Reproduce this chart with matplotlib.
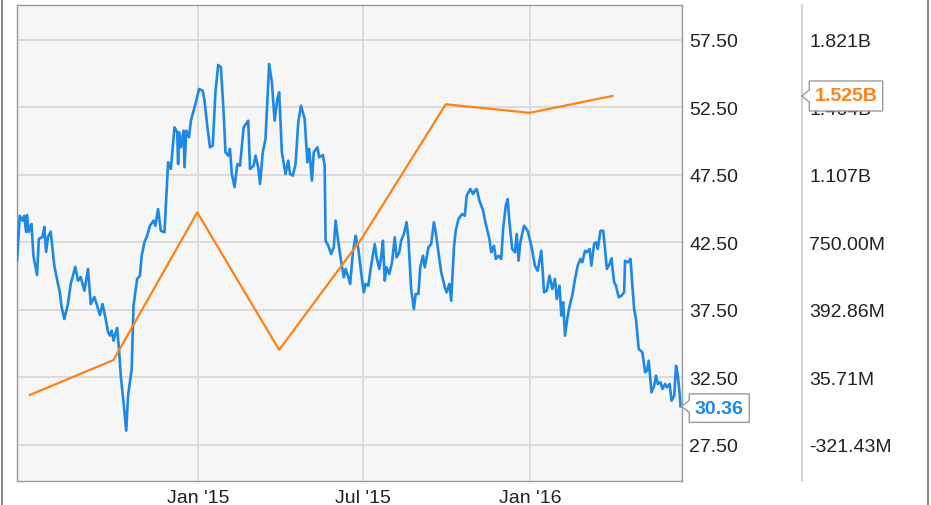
import matplotlib
matplotlib.use('Agg')
import matplotlib.pyplot as plt
from matplotlib.patches import Polygon
from matplotlib.lines import Line2D
import pandas as pd

# share price, days counted from start_date
start_date = '2014-06-16'
price_days = [0, 3, 6, 8, 10, 11, 13, 16, 18, 22, 24, 28, 30, 32, 34, 37, 41, 45, 47, 49,
              52, 56, 59, 64, 67, 70, 74, 78, 81, 85, 88, 91, 94, 97, 100, 102, 104, 106, 108, 110,
              112, 114, 117, 120, 122, 126, 128, 132, 135, 137, 140, 143, 146, 150, 152, 155, 158, 162, 166, 169,
              173, 176, 177, 178, 180, 183, 184, 186, 189, 191, 196, 200, 204, 206, 209, 212, 215, 218, 221, 224,
              227, 229, 232, 234, 236, 239, 242, 245, 249, 254, 256, 260, 262, 265, 267, 270, 273, 276, 277, 280,
              283, 286, 288, 291, 295, 298, 300, 303, 306, 309, 312, 316, 319, 321, 324, 326, 330, 332, 336, 338,
              339, 342, 345, 348, 350, 353, 356, 359, 361, 364, 366, 369, 372, 375, 378, 381, 383, 386, 389, 393,
              395, 398, 400, 402, 404, 406, 409, 412, 415, 417, 420, 422, 425, 428, 430, 433, 436, 438, 441, 443,
              446, 448, 452, 455, 458, 460, 463, 466, 470, 472, 475, 477, 480, 482, 485, 489, 492, 494, 498, 501,
              503, 505, 508, 512, 515, 519, 521, 524, 526, 529, 532, 534, 537, 539, 541, 544, 547, 549, 551, 553,
              557, 561, 565, 569, 572, 576, 579, 582, 585, 588, 591, 593, 596, 598, 600, 602, 605, 608, 610, 613,
              616, 619, 621, 624, 626, 629, 631, 634, 636, 638, 641, 644, 646, 648, 651, 653, 656, 658, 661, 664,
              667, 668, 671, 674, 676, 678, 680, 683, 687, 690, 692, 694, 697, 700, 702, 704, 707, 709, 712, 714,
              717, 719, 722, 724, 726, 728, 729]
price_values = [41.15, 44.48, 44.12, 44.48, 43.28, 44.54, 43.28, 43.87, 41.52, 40.09, 42.76, 42.91, 43.65, 41.80, 42.91, 43.30, 40.78, 39.43, 38.83, 37.72,
                36.83, 37.94, 39.43, 40.69, 39.67, 39.94, 38.93, 40.54, 37.94, 38.46, 37.82, 37.13, 37.94, 36.98, 35.87, 35.60, 35.97, 35.23, 35.72, 36.17,
                34.61, 32.63, 30.69, 28.56, 31.15, 33.13, 37.82, 39.80, 40.04, 41.52, 42.52, 43.00, 43.74, 44.12, 43.74, 44.98, 43.37, 43.26, 48.44, 47.94,
                51.03, 50.66, 48.31, 50.66, 49.55, 50.78, 48.07, 50.78, 50.29, 51.52, 52.76, 53.87, 53.74, 53.00, 51.15, 49.55, 49.67, 53.63, 55.65, 55.48,
                52.14, 49.18, 48.93, 49.43, 47.57, 46.59, 48.31, 48.19, 51.03, 51.52, 47.94, 48.19, 48.93, 48.07, 46.83, 49.18, 50.17, 54.37, 55.72, 54.37,
                51.52, 53.13, 53.63, 49.18, 47.57, 48.56, 47.57, 47.45, 48.31, 51.40, 52.63, 51.65, 48.44, 49.43, 47.08, 49.18, 49.55, 48.81, 48.98, 48.19,
                42.63, 42.26, 41.65, 42.14, 44.12, 42.52, 41.15, 39.92, 40.54, 39.92, 39.43, 41.77, 43.00, 42.02, 40.29, 38.81, 39.43, 39.30, 40.78, 42.39,
                41.40, 40.54, 41.40, 42.63, 39.67, 40.66, 40.17, 41.03, 42.89, 41.40, 41.77, 42.63, 43.13, 44.00, 42.76, 39.06, 37.57, 38.69, 38.69, 40.66,
                41.52, 40.66, 42.14, 42.39, 44.00, 43.26, 41.77, 40.29, 39.18, 38.81, 39.43, 38.19, 42.14, 43.37, 44.24, 44.61, 44.48, 45.97, 46.46, 46.09,
                46.34, 46.46, 45.60, 44.86, 43.87, 42.76, 41.77, 42.26, 41.28, 41.52, 41.28, 43.50, 45.23, 45.72, 44.00, 42.02, 41.77, 43.13, 41.15, 42.52,
                43.74, 43.37, 42.26, 40.78, 40.41, 41.89, 38.81, 38.93, 40.04, 39.06, 39.80, 38.31, 39.30, 37.08, 38.07, 35.60, 37.08, 38.07, 38.56, 39.80,
                40.78, 41.28, 41.03, 41.89, 41.77, 42.02, 40.78, 42.39, 42.52, 42.02, 43.37, 43.37, 42.02, 40.54, 40.91, 41.33, 39.55, 39.30, 38.44, 38.56,
                38.81, 41.15, 41.03, 41.28, 39.30, 37.57, 36.83, 34.61, 34.37, 32.89, 33.00, 33.74, 31.40, 31.89, 32.63, 32.02, 32.14, 31.65, 32.02, 31.77,
                32.02, 30.78, 31.15, 33.37, 32.63, 31.28, 30.36]

# quarterly revenue, millions
rev_dates = ['2014-06-30', '2014-09-30', '2014-12-31', '2015-03-31',
             '2015-06-30', '2015-09-30', '2015-12-31', '2016-03-31']
rev_values = [-57, 128, 909, 182, 773, 1481, 1436, 1525]

price_ticks = [27.5, 32.5, 37.5, 42.5, 47.5, 52.5, 57.5]
rev_ticks = [-321.43, 35.71, 392.86, 750.0, 1107.14, 1464.29, 1821.43]
x_ticks = ['2015-01-01', '2015-07-01', '2016-01-01']
x_labels = ["Jan '15", "Jul '15", "Jan '16"]

BLUE = '#1e88e5'
ORANGE = '#ff8214'
W, H = 931, 506
L, R, T, B = 17, 681.5, 6, 481.5

plt.rcParams['font.family'] = ['Liberation Sans', 'DejaVu Sans']


def fx(x):
    return x / W


def fy(y):
    return 1 - y / H


def rev_fmt(v):
    if abs(v) >= 1000:
        return '%.3fB' % (v / 1000)
    return '%.2fM' % v


def callout(x_tip, y_tip, x0, x1, y0, y1, text, color):
    pts = [(x_tip, y_tip), (x0, y_tip - 6), (x0, y0), (x1, y0), (x1, y1), (x0, y1), (x0, y_tip + 6)]
    poly = Polygon([(fx(a), fy(b)) for a, b in pts], closed=True, transform=fig.transFigure,
                   facecolor='white', edgecolor='#9a9a9a', lw=1, zorder=5)
    fig.add_artist(poly)
    fig.text(fx((x0 + x1) / 2), fy((y0 + y1) / 2), text, color=color, fontsize=14,
             fontweight='bold', ha='center', va='center', zorder=6)


start = pd.Timestamp(start_date)
price_dates = start + pd.to_timedelta(price_days, unit='D')
ylo, yhi = 24.87, 60.09


def to_rev(p):
    return 750 + (p - 42.5) * 357.142857 / 5


fig = plt.figure(figsize=(W / 100, H / 100), dpi=100)
ax = fig.add_axes([fx(L), fy(B), (R - L) / W, (B - T) / H])
ax.set_facecolor('#f6f6f6')
ax.plot(price_dates, price_values, color=BLUE, lw=1.9, zorder=3)
ax.set_xlim(start, start + pd.Timedelta(days=730))
ax.set_ylim(ylo, yhi)
ax.set_xticks(pd.to_datetime(x_ticks))
ax.set_xticklabels(x_labels)
ax.tick_params(axis='x', length=0, pad=6, labelsize=14, labelcolor='#222222')
ax.grid(color='#d9d9d9', lw=1.3)
ax.set_axisbelow(True)
for s in ax.spines.values():
    s.set_color('#9a9a9a')
    s.set_linewidth(1)

ax2 = ax.twinx()
ax2.plot(pd.to_datetime(rev_dates), rev_values, color=ORANGE, lw=1.6, zorder=4)
ax2.set_ylim(to_rev(ylo), to_rev(yhi))
ax2.set_yticks(rev_ticks)
ax2.set_yticklabels([rev_fmt(t) for t in rev_ticks])
ax2.tick_params(axis='y', length=0, pad=5.5, labelsize=14, labelcolor='#222222')
for k in ['left', 'top', 'bottom']:
    ax2.spines[k].set_visible(False)
ax2.spines['right'].set_position(('outward', 120 * 0.72))
ax2.spines['right'].set_color('#cccccc')
ax2.spines['right'].set_linewidth(1.2)

# price labels on the right of the plot (twinx moves them left, so set after)
ax.yaxis.tick_right()
ax.set_yticks(price_ticks)
ax.set_yticklabels(['%.2f' % t for t in price_ticks])
ax.tick_params(axis='y', length=0, pad=5.5, labelsize=14, labelcolor='#222222')

# value callouts
y_last = T + (yhi - price_values[-1]) / (yhi - ylo) * (B - T)
callout(R, y_last, 689.3, 749.3, y_last - 12.5, y_last + 16, '%.2f' % price_values[-1], BLUE)
r_lo, r_hi = to_rev(ylo), to_rev(yhi)
y_rev = T + (r_hi - rev_values[-1]) / (r_hi - r_lo) * (B - T)
callout(801.7, y_rev, 809.3, 882.7, y_rev - 15, y_rev + 15, '%.3fB' % (rev_values[-1] / 1000), ORANGE)

fig.add_artist(Line2D([fx(1.5)] * 2, [0, 1], color='#8c8c8c', lw=1.5))
fig.add_artist(Line2D([fx(928.3)] * 2, [0, 1], color='#8c8c8c', lw=1.5))

fig.savefig('out.png', dpi=100)
